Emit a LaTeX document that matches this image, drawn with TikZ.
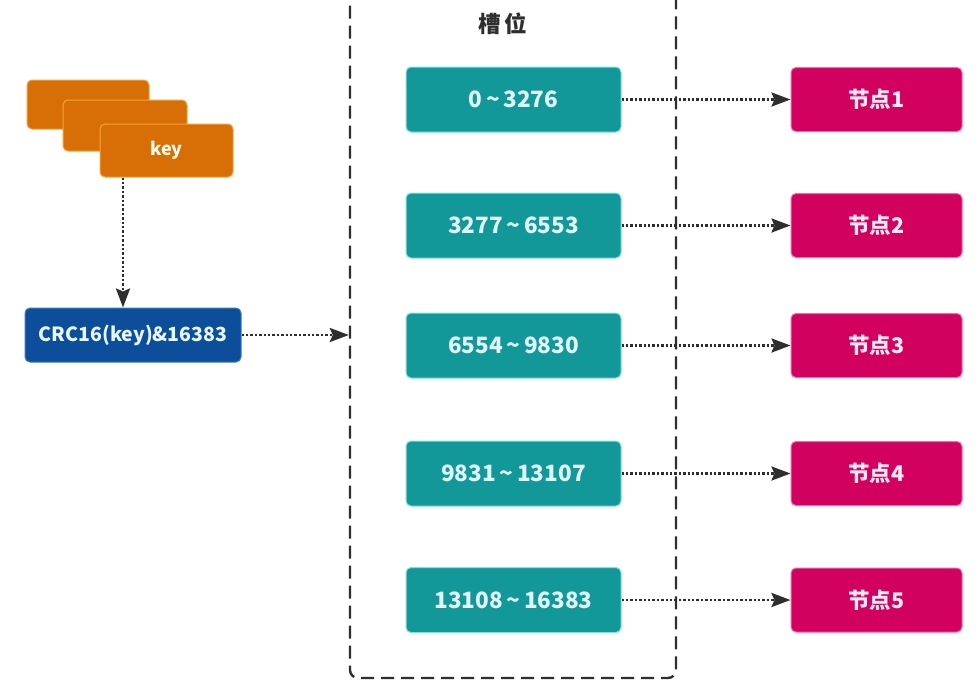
\documentclass[tikz,border=0pt]{standalone}
\usepackage{fontspec}
\setmainfont{Noto Sans CJK SC}
\usetikzlibrary{arrows.meta}
\definecolor{keyor}{HTML}{D86E06}
\definecolor{keyedge}{HTML}{F2A43A}
\definecolor{crcblue}{HTML}{0D4E9A}
\definecolor{crcedge}{HTML}{3A78C0}
\definecolor{slotteal}{HTML}{13989A}
\definecolor{slotedge}{HTML}{7EE2E2}
\definecolor{nodemag}{HTML}{D2005E}
\definecolor{nodeedge}{HTML}{F46AA8}
\definecolor{linegray}{HTML}{2E2E2E}
\begin{document}
\begin{tikzpicture}[x=1pt,y=-1pt,
  box/.style={rectangle, rounded corners=5pt, line width=1pt, inner sep=0pt, font=\fontsize{19.5}{22}\selectfont\bfseries},
  keybox/.style={box, fill=keyor, draw=keyedge, text=white!92!yellow, font=\fontsize{18}{22}\selectfont\bfseries},
  crcbox/.style={box, fill=crcblue, draw=crcedge, text=white!90!cyan, minimum width=216pt, minimum height=54pt},
  slotbox/.style={box, fill=slotteal, draw=slotedge, text=white!88!cyan, minimum width=215pt, minimum height=65pt, font=\fontsize{22.5}{26}\selectfont\bfseries},
  nodebox/.style={box, fill=nodemag, draw=nodeedge, text=white!92!magenta, minimum width=171pt, minimum height=64pt, font=\fontsize{21.5}{26}\selectfont\bfseries},
  arr/.style={draw=linegray, line width=2.6pt, dash pattern=on 2.4pt off 2pt, -{Stealth[length=19pt,width=14pt,inset=3pt]}},
  frame/.style={draw=linegray, line width=2.4pt, dash pattern=on 13pt off 7pt, rounded corners=8pt, inner sep=0pt}
]
\useasboundingbox (0,0) rectangle (978,686);
\fill[white] (0,0) rectangle (978,686);
\clip (0,0) rectangle (978,686);

% slot frame
\node[frame, minimum width=326pt, minimum height=718pt] (slots) at (513,319) {};
\node[text=linegray, font=\fontsize{22.5}{26}\selectfont\bfseries] (title) at (503,24) {槽\,位};

% keys
\node[keybox, minimum width=122pt, minimum height=49pt] (kA) at (88,104.5) {};
\node[keybox, minimum width=124pt, minimum height=51pt] (kB) at (125,125.5) {};
\node[keybox, minimum width=133pt, minimum height=53pt] (kC) at (166.5,150.5) {key};

% CRC
\node[crcbox] (crc) at (133,335) {CRC16(key)\&16383};

% slots
\node[slotbox] (s1) at (513.5,99.5) {0\,\char"007E\,3276};
\node[slotbox] (s2) at (513.5,225.5) {3277\,\char"007E\,6553};
\node[slotbox] (s3) at (513.5,345.5) {6554\,\char"007E\,9830};
\node[slotbox] (s4) at (513.5,473.5) {9831\,\char"007E\,13107};
\node[slotbox] (s5) at (513.5,600) {13108\,\char"007E\,16383};

% nodes
\node[nodebox] (n1) at (876.5,99.5) {节点1};
\node[nodebox] (n2) at (876.5,225.5) {节点2};
\node[nodebox] (n3) at (876.5,345.5) {节点3};
\node[nodebox] (n4) at (876.5,473.5) {节点4};
\node[nodebox] (n5) at (876.5,600) {节点5};

% connectors
\draw[arr] ([xshift=-43.5pt]kC.south) -- ([xshift=-10pt]crc.north);
\draw[arr] (crc.east) -- (crc.east -| slots.west);
\foreach \i in {1,...,5} {
  \draw[arr] (s\i.east) -- (n\i.west);
}
\end{tikzpicture}
\end{document}
